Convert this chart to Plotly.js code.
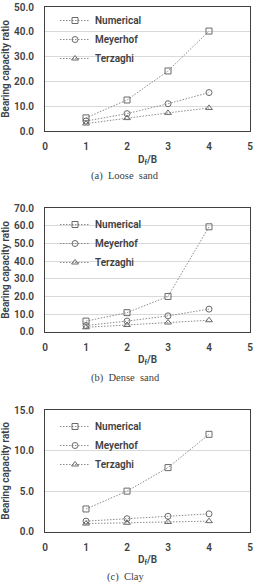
<!DOCTYPE html>
<html><head><meta charset="utf-8">
<script src="https://cdn.plot.ly/plotly-3.0.1.min.js"></script>
<style>html,body{margin:0;padding:0;background:#fff}#c{width:258px;height:582px}</style>
</head><body><div id="c"></div>
<script>
const ratio = [1, 2, 3, 4];
const seriesNames = ['Numerical', 'Meyerhof', 'Terzaghi'];
// (a) Loose sand
const looseNumerical = [5.3, 12.5, 24.2, 40.3];
const looseMeyerhof = [4.0, 7.0, 11.0, 15.5];
const looseTerzaghi = [3.0, 5.2, 7.3, 9.3];
// (b) Dense sand
const denseNumerical = [6.0, 10.8, 20.0, 59.5];
const denseMeyerhof = [3.5, 6.0, 9.0, 12.8];
const denseTerzaghi = [2.5, 3.8, 5.2, 6.5];
// (c) Clay
const clayNumerical = [2.8, 5.0, 7.9, 12.0];
const clayMeyerhof = [1.3, 1.6, 1.9, 2.2];
const clayTerzaghi = [1.0, 1.1, 1.2, 1.3];
const captions = ['(a)  Loose  sand', '(b)  Dense  sand', '(c)  Clay'];
const yMax = [50, 70, 15];
const yStep = [10, 10, 5];
const xTicks = [0, 1, 2, 3, 4, 5];

const panels = [
  [looseNumerical, looseMeyerhof, looseTerzaghi],
  [denseNumerical, denseMeyerhof, denseTerzaghi],
  [clayNumerical, clayMeyerhof, clayTerzaghi]
];
const symbols = ['square-open', 'circle-open', 'triangle-up-open'];
const H = 582, W = 258;
const frames = [[7, 131], [208.3, 331.7], [410, 531.7]];
const legendTop = [6, 210, 412];
const captionY = [176, 377.5, 577];
const sfx = ['', '2', '3'];
const tfont = {family: 'Roboto, Liberation Sans, sans-serif', size: 10, color: '#404040', weight: 600};

const traces = [];
const layout = {
  width: W, height: H, margin: {l: 0, r: 0, t: 0, b: 0},
  paper_bgcolor: '#fff', plot_bgcolor: '#fff', showlegend: true,
  font: {family: 'Roboto, Liberation Sans, sans-serif', color: '#404040'},
  annotations: []
};
panels.forEach((p, i) => {
  const s = sfx[i];
  p.forEach((vals, k) => {
    const mlc = vals.map((v, j) => (k === 0 && j === 0) ? '#8aa6d6' : '#6a6a6a');
    traces.push({
      x: ratio, y: vals, name: seriesNames[k], type: 'scatter', mode: 'lines+markers',
      xaxis: 'x' + s, yaxis: 'y' + s, legend: 'legend' + s,
      line: {color: '#8c8c8c', width: 1, dash: '1.5px,1.5px'},
      marker: {symbol: symbols[k], size: 6, color: '#6a6a6a', line: {color: mlc, width: 1}}
    });
  });
  const top = frames[i][0], bot = frames[i][1];
  layout['xaxis' + s] = {
    domain: [45 / W, 250 / W], range: [0, 5], tickvals: xTicks, ticktext: xTicks.map(String),
    anchor: 'y' + s, showgrid: false, zeroline: false, showline: true, mirror: true,
    linecolor: '#404040', linewidth: 1, ticks: '', ticklabelstandoff: 6,
    tickfont: tfont,
    title: {text: 'D<sub>f</sub>/B', font: tfont, standoff: 4}
  };
  const tv = [];
  for (let v = 0; v <= yMax[i] + 1e-9; v += yStep[i]) tv.push(v);
  layout['yaxis' + s] = {
    domain: [1 - bot / H, 1 - top / H], range: [0, yMax[i]], tickvals: tv,
    ticktext: tv.map(v => v.toFixed(1)), anchor: 'x' + s,
    showgrid: true, gridcolor: '#d9d9d9', gridwidth: 1, zeroline: false,
    showline: true, mirror: true, linecolor: '#404040', linewidth: 1, ticks: '',
    ticklabelstandoff: 8,
    tickfont: tfont,
    title: {text: 'Bearing capacity ratio', font: tfont, standoff: 3}
  };
  layout['legend' + s] = {
    x: 55 / W, y: 1 - legendTop[i] / H, xanchor: 'left', yanchor: 'top',
    bgcolor: 'rgba(0,0,0,0)', borderwidth: 0, itemwidth: 30, tracegroupgap: 0,
    font: tfont
  };
  layout.annotations.push({
    text: captions[i], xref: 'paper', yref: 'paper', x: 125 / W, y: 1 - captionY[i] / H,
    xanchor: 'center', yanchor: 'middle', showarrow: false,
    font: {family: 'Liberation Serif, Times New Roman, serif', size: 10.5, color: '#404040'}
  });
});
Plotly.newPlot('c', traces, layout, {staticPlot: true});
</script>
</body></html>
